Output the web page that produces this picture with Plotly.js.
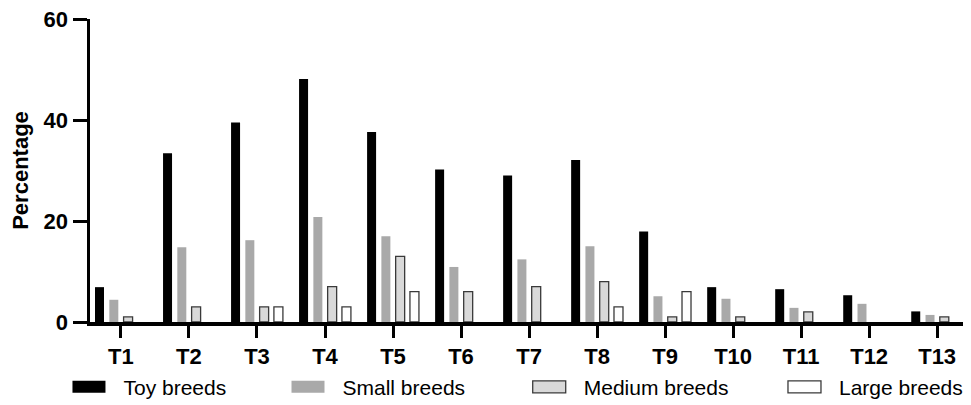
<!DOCTYPE html>
<html>
<head>
<meta charset="utf-8">
<script src="https://cdn.plot.ly/plotly-3.0.1.min.js"></script>
<style>
  html, body { margin: 0; padding: 0; background: #fff; }
  #chart { width: 971px; height: 405px; }
</style>
</head>
<body>
<div id="chart"></div>
<script>
// ---- data ----
var categories = ["T1","T2","T3","T4","T5","T6","T7","T8","T9","T10","T11","T12","T13"];
var toyBreeds    = [6.9, 33.4, 39.5, 48.1, 37.6, 30.2, 29.0, 32.1, 17.9, 6.9, 6.5, 5.3, 2.1];
var smallBreeds  = [4.4, 14.8, 16.2, 20.8, 17.0, 10.9, 12.4, 15.0, 5.1, 4.6, 2.8, 3.6, 1.4];
var mediumBreeds = [1, 3, 3, 7, 13, 6, 7, 8, 1, 1, 2, 0, 1];
var largeBreeds  = [0, 0, 3, 3, 6, 0, 0, 3, 6, 0, 0, 0, 0];
var seriesNames  = ["Toy breeds", "Small breeds", "Medium breeds", "Large breeds"];
var yTicks = [0, 20, 40, 60];

var FONT = "Liberation Sans, Arial, Helvetica, sans-serif";
var OUTLINE = "#3a3a3a";
var OUTLINE_W = 1.3;

function barTrace(name, values, fill, lineColor, lineWidth, legendId) {
  return {
    type: "bar", x: categories, y: values, name: name, legend: legendId,
    marker: {
      color: fill,
      line: { color: lineColor, width: values.map(function (v) { return v > 0 ? lineWidth : 0; }) }
    },
    meta: { outlineWidth: lineWidth, outlineColor: lineColor },
    hoverinfo: "skip"
  };
}

var traces = [
  barTrace(seriesNames[0], toyBreeds,    "#000000", "#000000", 0,         "legend"),
  barTrace(seriesNames[1], smallBreeds,  "#a9a9a9", "#a9a9a9", 0,         "legend2"),
  barTrace(seriesNames[2], mediumBreeds, "#d9d9d9", OUTLINE,   OUTLINE_W, "legend3"),
  barTrace(seriesNames[3], largeBreeds,  "#ffffff", OUTLINE,   OUTLINE_W, "legend4")
];

function legendAt(xp) {
  return {
    x: xp, xanchor: "left", y: -0.215, yanchor: "middle",
    orientation: "h", bgcolor: "rgba(0,0,0,0)", borderwidth: 0,
    itemwidth: 59, font: { family: FONT, size: 21, color: "#000" },
    itemclick: false, itemdoubleclick: false
  };
}

var layout = {
  width: 971, height: 405,
  margin: { l: 90, r: 8, t: 19, b: 83, autoexpand: false },
  paper_bgcolor: "#fff", plot_bgcolor: "#fff",
  barmode: "group", bargap: 0.16, bargroupgap: 0.37,
  showlegend: true,
  legend:  legendAt(-0.0407),
  legend2: legendAt(0.2102),
  legend3: legendAt(0.4865),
  legend4: legendAt(0.7789),
  xaxis: {
    type: "category", range: [-0.455, 12.38],
    showline: true, linecolor: "#000", linewidth: 3.5,
    ticks: "outside", ticklen: 12, tickwidth: 3, tickcolor: "#000",
    tickfont: { family: FONT, size: 22, color: "#000", weight: "bold" },
    showgrid: false, zeroline: false, fixedrange: true, automargin: false
  },
  yaxis: {
    range: [0, 60], tickvals: yTicks, ticktext: yTicks.map(String),
    showline: true, linecolor: "#000", linewidth: 3.5,
    ticks: "outside", ticklen: 14, tickwidth: 3, tickcolor: "#000",
    tickfont: { family: FONT, size: 22, color: "#000", weight: "bold" },
    showgrid: false, zeroline: false, fixedrange: true, automargin: false,
    title: { text: "Percentage", standoff: 10,
             font: { family: FONT, size: 22, color: "#000", weight: "bold" } }
  }
};

function widenSwatches(gd) {
  var paths = gd.querySelectorAll("g.legendpoints path");
  paths.forEach(function (p) {
    p.setAttribute("d", "M16.5,6H-16.5V-6H16.5Z");
    var d = p.__data__;
    var tr = d && d[0] && d[0].trace;
    if (tr && tr.meta && tr.meta.outlineWidth > 0) {
      p.style.stroke = tr.meta.outlineColor;
      p.style.strokeWidth = tr.meta.outlineWidth + "px";
      p.style.strokeOpacity = 1;
    }
  });
}

Plotly.newPlot("chart", traces, layout, { displayModeBar: false, staticPlot: true }).then(function (gd) {
  widenSwatches(gd);
  gd.on("plotly_afterplot", function () { widenSwatches(gd); });
  setTimeout(function () { widenSwatches(gd); }, 0);
});
</script>
</body>
</html>
